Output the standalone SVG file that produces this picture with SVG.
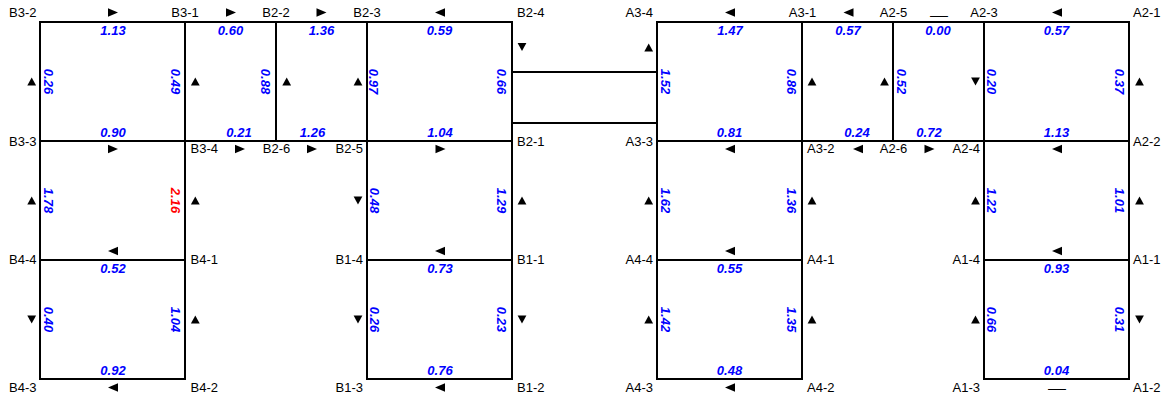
<svg xmlns="http://www.w3.org/2000/svg" xmlns:xlink="http://www.w3.org/1999/xlink" width="1166" height="398" viewBox="0 0 1166 398">
<style>
.ln{stroke:#000;stroke-width:2;fill:none;stroke-linecap:square}
.nl{font-family:"Liberation Sans",Arial,sans-serif;font-size:13px;fill:#000}
.s{text-anchor:start}.m{text-anchor:middle}.e{text-anchor:end}
.v{font-family:"Liberation Sans",Arial,sans-serif;font-size:13px;font-weight:bold;font-style:italic;fill:#0000ff;text-anchor:middle}
.red{fill:#ff0000}
.dash{font-family:"Liberation Sans",Arial,sans-serif;font-size:12px;fill:#000;text-anchor:middle}
</style>
<defs>
<polygon id="ar" points="-5,-4.3 5,0 -5,4.3" fill="#000"/>
<polygon id="al" points="5,-4.3 -5,0 5,4.3" fill="#000"/>
<polygon id="au" points="-4.4,3.9 0,-3.9 4.4,3.9" fill="#000"/>
<polygon id="ad" points="-4.4,-3.9 0,3.9 4.4,-3.9" fill="#000"/>
</defs>
<rect width="1166" height="398" fill="#fff"/>

<g id="connectors">
 <g id="pipes" class="ln">
  <path d="M40,22H512M657,22H1129M40,141H512M657,141H1129M40,260H185M367,260H512M657,260H802M984,260H1129M40,379H185M367,379H512M657,379H802M984,379H1129"/>
  <path d="M40,22V379M185,22V379M276,22V141M367,22V379M512,22V379M657,22V379M802,22V379M893,22V141M984,22V379M1129,22V379"/>
  <path d="M512,72H657M512,123H657"/>
 </g>
 <g id="arrows">
  <use xlink:href="#ar" x="113" y="12.5"/>
  <use xlink:href="#ar" x="231" y="12.5"/>
  <use xlink:href="#ar" x="321.5" y="12.5"/>
  <use xlink:href="#al" x="440" y="12.5"/>
  <use xlink:href="#al" x="730" y="12.5"/>
  <use xlink:href="#al" x="848.5" y="12.5"/>
  <text class="dash" transform="translate(939,19.5) scale(1.5,1)">—</text>
  <use xlink:href="#al" x="1057" y="12.5"/>

  <use xlink:href="#ar" x="113" y="149"/>
  <use xlink:href="#ar" x="240" y="149"/>
  <use xlink:href="#ar" x="312" y="149"/>
  <use xlink:href="#ar" x="440.5" y="149"/>
  <use xlink:href="#al" x="730" y="149"/>
  <use xlink:href="#al" x="858" y="149"/>
  <use xlink:href="#ar" x="929.5" y="149"/>
  <use xlink:href="#al" x="1057" y="149"/>

  <use xlink:href="#al" x="113" y="251"/>
  <use xlink:href="#al" x="440" y="251"/>
  <use xlink:href="#al" x="730" y="251"/>
  <use xlink:href="#al" x="1057" y="251"/>

  <use xlink:href="#al" x="113" y="387.5"/>
  <use xlink:href="#al" x="440" y="387.5"/>
  <use xlink:href="#al" x="730" y="387.5"/>
  <text class="dash" transform="translate(1057,392.5) scale(1.5,1)">—</text>

  <use xlink:href="#au" x="31.7" y="81.5"/>
  <use xlink:href="#au" x="195.3" y="81.5"/>
  <use xlink:href="#au" x="286.7" y="81.5"/>
  <use xlink:href="#au" x="358" y="81.5"/>
  <use xlink:href="#ad" x="522" y="47"/>
  <use xlink:href="#au" x="648.7" y="47.5"/>
  <use xlink:href="#au" x="812" y="81.5"/>
  <use xlink:href="#au" x="884.5" y="81.5"/>
  <use xlink:href="#ad" x="975.5" y="81.5"/>
  <use xlink:href="#au" x="1139.5" y="81.5"/>

  <use xlink:href="#au" x="31.7" y="200.5"/>
  <use xlink:href="#au" x="195.3" y="200.5"/>
  <use xlink:href="#ad" x="358" y="200.5"/>
  <use xlink:href="#au" x="522" y="200.5"/>
  <use xlink:href="#au" x="648.7" y="200.5"/>
  <use xlink:href="#au" x="812" y="200.5"/>
  <use xlink:href="#au" x="975.5" y="200.5"/>
  <use xlink:href="#au" x="1139.5" y="200.5"/>

  <use xlink:href="#ad" x="31.7" y="319.5"/>
  <use xlink:href="#au" x="195.3" y="319.5"/>
  <use xlink:href="#ad" x="358" y="319.5"/>
  <use xlink:href="#ad" x="522" y="319.5"/>
  <use xlink:href="#au" x="648.7" y="319.5"/>
  <use xlink:href="#au" x="812" y="319.5"/>
  <use xlink:href="#au" x="975.5" y="319.5"/>
  <use xlink:href="#ad" x="1139.5" y="319.5"/>
 </g>
 <g id="values" class="v">
  <text x="113" y="34.5">1.13</text>
  <text x="230.5" y="34.5">0.60</text>
  <text x="321.5" y="34.5">1.36</text>
  <text x="439.5" y="34.5">0.59</text>
  <text x="730" y="34.5">1.47</text>
  <text x="848" y="34.5">0.57</text>
  <text x="938" y="34.5">0.00</text>
  <text x="1056.5" y="34.5">0.57</text>

  <text x="113" y="136.5">0.90</text>
  <text x="239" y="136.5">0.21</text>
  <text x="312.5" y="136.5">1.26</text>
  <text x="440" y="136.5">1.04</text>
  <text x="729.5" y="136.5">0.81</text>
  <text x="857" y="136.5">0.24</text>
  <text x="929" y="136.5">0.72</text>
  <text x="1056.5" y="136.5">1.13</text>

  <text x="113" y="273">0.52</text>
  <text x="440" y="273">0.73</text>
  <text x="729.5" y="273">0.55</text>
  <text x="1056.5" y="273">0.93</text>

  <text x="113" y="375">0.92</text>
  <text x="440" y="375">0.76</text>
  <text x="729.5" y="375">0.48</text>
  <text x="1056.5" y="375">0.04</text>

  <text transform="translate(43.5,81.5) rotate(90)">0.26</text>
  <text transform="translate(170.5,81.5) rotate(90)">0.49</text>
  <text transform="translate(261,81.5) rotate(90)">0.88</text>
  <text transform="translate(369,81.5) rotate(90)">0.97</text>
  <text transform="translate(497,81.5) rotate(90)">0.66</text>
  <text transform="translate(660.5,81.5) rotate(90)">1.52</text>
  <text transform="translate(787,81.5) rotate(90)">0.86</text>
  <text transform="translate(897,81.5) rotate(90)">0.52</text>
  <text transform="translate(987,81.5) rotate(90)">0.20</text>
  <text transform="translate(1114.5,81.5) rotate(90)">0.37</text>

  <text transform="translate(43.5,200.5) rotate(90)">1.78</text>
  <text class="red" transform="translate(170.5,200.5) rotate(90)">2.16</text>
  <text transform="translate(370,200.5) rotate(90)">0.48</text>
  <text transform="translate(497,200.5) rotate(90)">1.29</text>
  <text transform="translate(660.5,200.5) rotate(90)">1.62</text>
  <text transform="translate(787,200.5) rotate(90)">1.36</text>
  <text transform="translate(987,200.5) rotate(90)">1.22</text>
  <text transform="translate(1114.5,200.5) rotate(90)">1.01</text>

  <text transform="translate(43.5,319.5) rotate(90)">0.40</text>
  <text transform="translate(170.5,319.5) rotate(90)">1.04</text>
  <text transform="translate(370,319.5) rotate(90)">0.26</text>
  <text transform="translate(497,319.5) rotate(90)">0.23</text>
  <text transform="translate(660.5,319.5) rotate(90)">1.42</text>
  <text transform="translate(787,319.5) rotate(90)">1.35</text>
  <text transform="translate(987,319.5) rotate(90)">0.66</text>
  <text transform="translate(1114.5,319.5) rotate(90)">0.31</text>
 </g>
</g>

<g id="nodes" class="nl">
 <g id="B3-2"><text class="e" x="36.5" y="17">B3-2</text></g>
 <g id="B3-1"><text class="m" x="185" y="17">B3-1</text></g>
 <g id="B2-2"><text class="m" x="276" y="17">B2-2</text></g>
 <g id="B2-3"><text class="m" x="367" y="17">B2-3</text></g>
 <g id="B2-4"><text class="s" x="517" y="17">B2-4</text></g>
 <g id="A3-4"><text class="e" x="653" y="17">A3-4</text></g>
 <g id="A3-1"><text class="m" x="802.5" y="17">A3-1</text></g>
 <g id="A2-5"><text class="m" x="893.5" y="17">A2-5</text></g>
 <g id="A2-3"><text class="m" x="984" y="17">A2-3</text></g>
 <g id="A2-1"><text class="s" x="1133" y="17">A2-1</text></g>

 <g id="B3-3"><text class="e" x="36.5" y="145.5">B3-3</text></g>
 <g id="B3-4"><text class="s" x="190.5" y="153">B3-4</text></g>
 <g id="B2-6"><text class="m" x="276.5" y="153">B2-6</text></g>
 <g id="B2-5"><text class="e" x="363" y="153">B2-5</text></g>
 <g id="B2-1"><text class="s" x="517" y="145.5">B2-1</text></g>
 <g id="A3-3"><text class="e" x="653" y="145.5">A3-3</text></g>
 <g id="A3-2"><text class="s" x="807" y="153">A3-2</text></g>
 <g id="A2-6"><text class="m" x="893.5" y="153">A2-6</text></g>
 <g id="A2-4"><text class="e" x="980" y="153">A2-4</text></g>
 <g id="A2-2"><text class="s" x="1133" y="145.5">A2-2</text></g>

 <g id="B4-4"><text class="e" x="36.5" y="264">B4-4</text></g>
 <g id="B4-1"><text class="s" x="190.5" y="264">B4-1</text></g>
 <g id="B1-4"><text class="e" x="363" y="264">B1-4</text></g>
 <g id="B1-1"><text class="s" x="517" y="264">B1-1</text></g>
 <g id="A4-4"><text class="e" x="653" y="264">A4-4</text></g>
 <g id="A4-1"><text class="s" x="807" y="264">A4-1</text></g>
 <g id="A1-4"><text class="e" x="980" y="264">A1-4</text></g>
 <g id="A1-1"><text class="s" x="1133" y="264">A1-1</text></g>

 <g id="B4-3"><text class="e" x="36.5" y="392">B4-3</text></g>
 <g id="B4-2"><text class="s" x="190.5" y="392">B4-2</text></g>
 <g id="B1-3"><text class="e" x="363" y="392">B1-3</text></g>
 <g id="B1-2"><text class="s" x="517" y="392">B1-2</text></g>
 <g id="A4-3"><text class="e" x="653" y="392">A4-3</text></g>
 <g id="A4-2"><text class="s" x="807" y="392">A4-2</text></g>
 <g id="A1-3"><text class="e" x="980" y="392">A1-3</text></g>
 <g id="A1-2"><text class="s" x="1133" y="392">A1-2</text></g>
</g>
</svg>
